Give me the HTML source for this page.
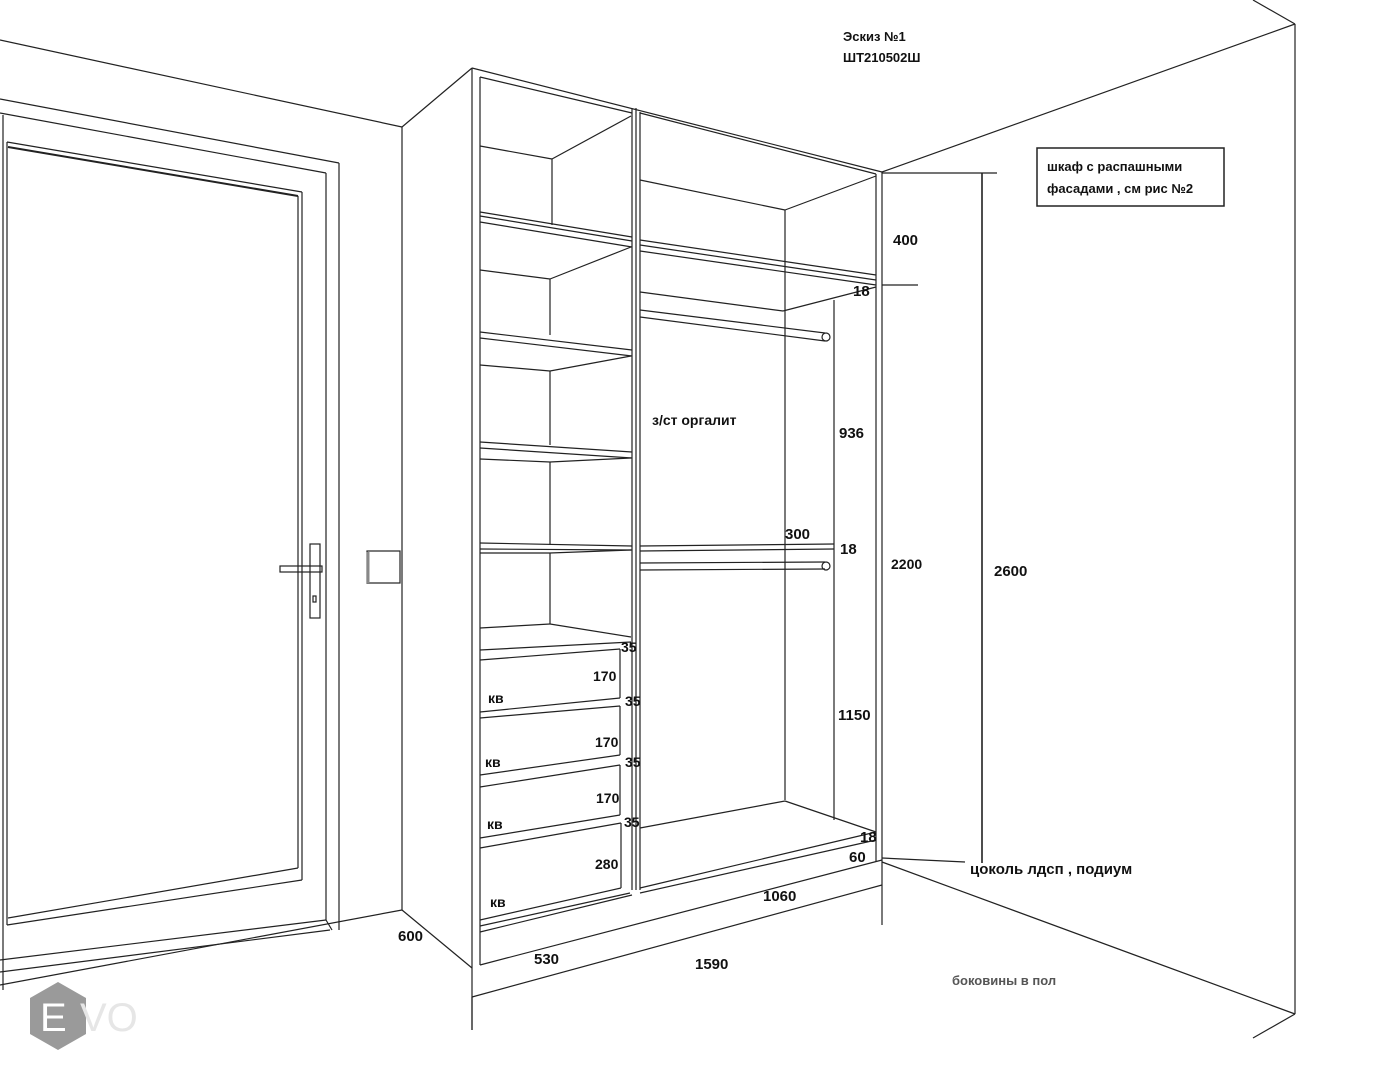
<!DOCTYPE html>
<html><head><meta charset="utf-8"><style>
html,body{margin:0;padding:0;background:#fff;}
svg{display:block;}
text{font-family:"Liberation Sans","DejaVu Sans",sans-serif;font-weight:bold;fill:#111;}
</style></head><body>
<svg width="1380" height="1080" viewBox="0 0 1380 1080" xmlns="http://www.w3.org/2000/svg">
<g stroke="#222" stroke-width="1.2" fill="none">
<!-- left room -->
<line x1="0" y1="40" x2="402" y2="127"/>
<line x1="402" y1="127" x2="402" y2="910"/>
<line x1="402" y1="127" x2="472" y2="68"/>
<line x1="0" y1="985" x2="402" y2="910"/>
<line x1="402" y1="910" x2="472" y2="968"/>
<!-- door frame -->
<line x1="0" y1="99" x2="339" y2="163"/>
<line x1="0" y1="113" x2="326" y2="173"/>
<line x1="326" y1="173" x2="326" y2="920"/>
<line x1="339" y1="163" x2="339" y2="930"/>
<line x1="3" y1="115" x2="3" y2="990"/>
<line x1="7" y1="142" x2="7" y2="925"/>
<line x1="7" y1="142" x2="302" y2="192"/>
<line x1="8" y1="147" x2="298" y2="196" stroke-width="2"/>
<line x1="298" y1="196" x2="298" y2="868"/>
<line x1="302" y1="192" x2="302" y2="880"/>
<line x1="8" y1="918" x2="298" y2="868"/>
<line x1="7" y1="925" x2="302" y2="880"/>
<line x1="0" y1="960" x2="326" y2="920"/>
<line x1="0" y1="972" x2="330" y2="930"/>
<line x1="326" y1="920" x2="332" y2="930"/>
<!-- handle -->
<rect x="280" y="566" width="42" height="6"/>
<rect x="310" y="544" width="10" height="74"/>
<rect x="313" y="596" width="3" height="6"/>
<!-- switch -->
<rect x="367" y="551" width="33" height="32"/>
<line x1="368" y1="552" x2="368" y2="583" stroke-width="3" stroke="#888"/>
<!-- right room -->
<line x1="1253" y1="0" x2="1295" y2="24"/>
<line x1="1295" y1="24" x2="1295" y2="1014"/>
<line x1="1295" y1="24" x2="882" y2="172"/>
<line x1="882" y1="862" x2="1295" y2="1014"/>
<line x1="1253" y1="1038" x2="1295" y2="1014"/>
<!-- cabinet outer -->
<line x1="472" y1="68" x2="472" y2="1030"/>
<line x1="480" y1="77" x2="480" y2="965"/>
<line x1="472" y1="68" x2="882" y2="172"/>
<line x1="480" y1="77" x2="632" y2="113"/>
<line x1="640" y1="113" x2="876" y2="174"/>
<line x1="632" y1="108" x2="632" y2="890"/>
<line x1="636" y1="108" x2="636" y2="890"/>
<line x1="640" y1="112" x2="640" y2="890"/>
<line x1="876" y1="174" x2="876" y2="862"/>
<line x1="882" y1="172" x2="882" y2="925"/>
<line x1="472" y1="997" x2="882" y2="885"/>
<line x1="480" y1="965" x2="882" y2="860"/>
<!-- left top compartment -->
<line x1="480" y1="146" x2="552" y2="159"/>
<line x1="552" y1="159" x2="552" y2="225"/>
<line x1="552" y1="159" x2="631" y2="116"/>
<!-- left shelves -->
<line x1="480" y1="212" x2="632" y2="237"/>
<line x1="480" y1="216" x2="632" y2="241"/>
<line x1="480" y1="222" x2="632" y2="247"/>
<line x1="480" y1="270" x2="550" y2="279"/>
<line x1="550" y1="279" x2="550" y2="335"/>
<line x1="550" y1="279" x2="631" y2="247"/>
<line x1="480" y1="332" x2="632" y2="350"/>
<line x1="480" y1="338" x2="632" y2="356"/>
<line x1="480" y1="365" x2="550" y2="371"/>
<line x1="550" y1="371" x2="550" y2="445"/>
<line x1="550" y1="371" x2="631" y2="356"/>
<line x1="480" y1="442" x2="632" y2="452"/>
<line x1="480" y1="448" x2="632" y2="458"/>
<line x1="480" y1="459" x2="550" y2="462"/>
<line x1="550" y1="462" x2="550" y2="545"/>
<line x1="550" y1="462" x2="631" y2="458"/>
<line x1="480" y1="543" x2="632" y2="546"/>
<line x1="480" y1="549" x2="632" y2="550"/>
<line x1="480" y1="553" x2="550" y2="553"/>
<line x1="550" y1="553" x2="550" y2="624"/>
<line x1="550" y1="553" x2="631" y2="550"/>
<line x1="480" y1="628" x2="550" y2="624"/>
<line x1="550" y1="624" x2="631" y2="637"/>
<line x1="480" y1="650" x2="631" y2="642"/>
<!-- drawers -->
<line x1="480" y1="660" x2="620" y2="649"/>
<line x1="620" y1="649" x2="620" y2="698"/>
<line x1="480" y1="712" x2="620" y2="698"/>
<line x1="480" y1="718" x2="620" y2="706"/>
<line x1="620" y1="706" x2="620" y2="755"/>
<line x1="480" y1="775" x2="620" y2="755"/>
<line x1="480" y1="787" x2="620" y2="765"/>
<line x1="620" y1="765" x2="620" y2="815"/>
<line x1="480" y1="838" x2="620" y2="815"/>
<line x1="480" y1="848" x2="621" y2="823"/>
<line x1="621" y1="823" x2="621" y2="888"/>
<line x1="480" y1="920" x2="621" y2="888"/>
<line x1="480" y1="926" x2="630" y2="893"/>
<line x1="480" y1="932" x2="632" y2="895"/>
<!-- right section -->
<line x1="640" y1="180" x2="785" y2="210"/>
<line x1="785" y1="210" x2="785" y2="800"/>
<line x1="785" y1="210" x2="876" y2="176"/>
<line x1="640" y1="240" x2="876" y2="275"/>
<line x1="640" y1="245" x2="876" y2="280"/>
<line x1="640" y1="251" x2="876" y2="285"/>
<line x1="640" y1="292" x2="783" y2="311"/>
<line x1="783" y1="311" x2="876" y2="287"/>
<line x1="640" y1="310" x2="825" y2="333"/>
<line x1="640" y1="317" x2="825" y2="341"/>
<circle cx="826" cy="337" r="4"/>
<line x1="834" y1="300" x2="834" y2="820"/>
<line x1="640" y1="546" x2="834" y2="544"/>
<line x1="640" y1="551" x2="834" y2="549"/>
<line x1="640" y1="563" x2="825" y2="562"/>
<line x1="640" y1="570" x2="825" y2="569"/>
<circle cx="826" cy="566" r="4"/>
<line x1="640" y1="828" x2="785" y2="801"/>
<line x1="785" y1="801" x2="876" y2="832"/>
<line x1="640" y1="888" x2="876" y2="832"/>
<line x1="640" y1="893" x2="876" y2="840"/>
<!-- dimensions -->
<line x1="882" y1="173" x2="997" y2="173"/>
<line x1="982" y1="173" x2="982" y2="863" stroke-width="1.6"/>
<line x1="882" y1="285" x2="918" y2="285"/>
<line x1="882" y1="858" x2="965" y2="862"/>
<rect x="1037" y="148" width="187" height="58" stroke-width="1.5"/>
<line x1="472" y1="997" x2="472" y2="1030"/>
</g>
<text x="843" y="41" font-size="13">Эскиз №1</text>
<text x="843" y="62" font-size="13">ШТ210502Ш</text>
<text x="1047" y="171" font-size="13">шкаф с распашными</text>
<text x="1047" y="193" font-size="13">фасадами , см рис №2</text>
<text x="893" y="245" font-size="15">400</text>
<text x="853" y="296" font-size="15">18</text>
<text x="652" y="425" font-size="14">з/ст оргалит</text>
<text x="839" y="438" font-size="15">936</text>
<text x="785" y="539" font-size="15">300</text>
<text x="840" y="554" font-size="15">18</text>
<text x="891" y="569" font-size="14">2200</text>
<text x="994" y="576" font-size="15">2600</text>
<text x="838" y="720" font-size="15">1150</text>
<text x="860" y="842" font-size="15">18</text>
<text x="849" y="862" font-size="15">60</text>
<text x="970" y="874" font-size="15">цоколь лдсп , подиум</text>
<text x="763" y="901" font-size="15">1060</text>
<text x="695" y="969" font-size="15">1590</text>
<text x="534" y="964" font-size="15">530</text>
<text x="398" y="941" font-size="15">600</text>
<text x="952" y="985" font-size="13" style="fill:#555">боковины в пол</text>
<text x="621" y="652" font-size="14">35</text>
<text x="593" y="681" font-size="14">170</text>
<text x="625" y="706" font-size="14">35</text>
<text x="488" y="703" font-size="14">кв</text>
<text x="595" y="747" font-size="14">170</text>
<text x="625" y="767" font-size="14">35</text>
<text x="485" y="767" font-size="14">кв</text>
<text x="596" y="803" font-size="14">170</text>
<text x="624" y="827" font-size="14">35</text>
<text x="487" y="829" font-size="14">кв</text>
<text x="595" y="869" font-size="14">280</text>
<text x="490" y="907" font-size="14">кв</text>
<!-- logo -->
<polygon points="58,982 86,998 86,1034 58,1050 30,1034 30,998" fill="#9a9a9a"/>
<text x="40" y="1031" font-size="40" style="fill:#fff;font-weight:normal">E</text>
<text x="80" y="1031" font-size="40" style="fill:#e6e6e6;font-weight:normal">VO</text>
</svg>
</body></html>
